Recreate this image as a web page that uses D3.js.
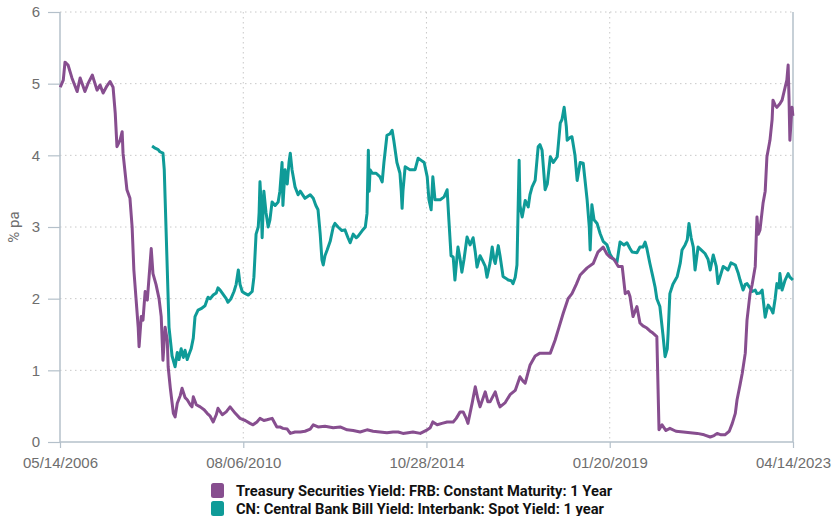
<!DOCTYPE html>
<html>
<head>
<meta charset="utf-8">
<script src="https://cdn.jsdelivr.net/npm/d3@7"></script>
<style>
  body { margin: 0; background: #fff; }
  svg { display: block; font-family: Roboto, "Noto Sans", sans-serif; }
</style>
</head>
<body>
<svg id="chart" width="832" height="516"></svg>
<script>
// time is kept as decimal years
var usYears = [2006.37,2006.44,2006.48,2006.55,2006.64,2006.76,2006.83,2006.94,2007.01,2007.11,2007.22,2007.29,2007.36,2007.45,2007.52,2007.59,2007.64,2007.68,2007.75,2007.80,2007.82,2007.91,2007.98,2008.03,2008.07,2008.12,2008.17,2008.19,2008.24,2008.28,2008.33,2008.38,2008.42,2008.47,2008.51,2008.58,2008.65,2008.70,2008.74,2008.79,2008.84,2008.86,2008.91,2008.98,2009.02,2009.07,2009.14,2009.18,2009.25,2009.30,2009.37,2009.41,2009.44,2009.51,2009.60,2009.69,2009.76,2009.83,2009.90,2009.97,2010.01,2010.11,2010.20,2010.29,2010.41,2010.52,2010.64,2010.75,2010.82,2010.91,2010.98,2011.07,2011.14,2011.26,2011.37,2011.44,2011.51,2011.61,2011.68,2011.79,2011.91,2012.02,2012.14,2012.21,2012.32,2012.48,2012.67,2012.83,2012.99,2013.13,2013.29,2013.45,2013.59,2013.75,2013.91,2014.05,2014.17,2014.28,2014.40,2014.51,2014.68,2014.84,2014.91,2014.97,2015.07,2015.18,2015.30,2015.44,2015.51,2015.60,2015.67,2015.74,2015.78,2015.88,2015.95,2016.01,2016.06,2016.18,2016.24,2016.29,2016.41,2016.48,2016.52,2016.64,2016.75,2016.87,2016.98,2017.05,2017.10,2017.21,2017.33,2017.44,2017.56,2017.68,2017.79,2017.88,2017.98,2018.09,2018.18,2018.28,2018.37,2018.53,2018.67,2018.78,2018.90,2018.99,2019.06,2019.15,2019.25,2019.34,2019.41,2019.48,2019.52,2019.59,2019.68,2019.75,2019.82,2019.91,2019.98,2020.05,2020.14,2020.19,2020.26,2020.35,2020.44,2020.58,2020.75,2020.91,2021.07,2021.23,2021.37,2021.46,2021.53,2021.62,2021.71,2021.81,2021.88,2021.95,2021.99,2022.06,2022.11,2022.18,2022.22,2022.29,2022.34,2022.41,2022.45,2022.48,2022.52,2022.59,2022.64,2022.68,2022.75,2022.80,2022.82,2022.87,2022.91,2022.98,2023.03,2023.10,2023.14,2023.17,2023.19,2023.21,2023.24,2023.26,2023.28];
var usYield = [4.95,5.05,5.30,5.26,5.08,4.89,5.08,4.89,5.00,5.12,4.91,4.98,4.87,4.97,5.03,4.95,4.59,4.12,4.21,4.33,4.03,3.52,3.40,3.00,2.40,2.00,1.60,1.33,1.75,1.70,2.10,1.98,2.30,2.70,2.35,2.20,2.00,1.75,1.14,1.60,1.42,1.05,0.75,0.40,0.35,0.54,0.65,0.75,0.62,0.59,0.52,0.49,0.63,0.52,0.49,0.45,0.40,0.36,0.28,0.38,0.47,0.38,0.42,0.49,0.40,0.33,0.30,0.26,0.24,0.28,0.33,0.30,0.31,0.33,0.21,0.21,0.19,0.18,0.12,0.14,0.14,0.15,0.18,0.24,0.21,0.22,0.20,0.21,0.17,0.16,0.14,0.17,0.15,0.14,0.13,0.14,0.14,0.12,0.13,0.14,0.12,0.17,0.20,0.28,0.24,0.26,0.28,0.28,0.33,0.42,0.42,0.33,0.26,0.55,0.77,0.60,0.49,0.70,0.56,0.56,0.70,0.55,0.49,0.55,0.66,0.72,0.91,0.85,0.82,1.07,1.20,1.24,1.24,1.24,1.42,1.60,1.80,2.00,2.07,2.20,2.33,2.43,2.49,2.65,2.72,2.62,2.58,2.55,2.45,2.45,2.07,2.10,2.03,1.75,1.89,1.66,1.62,1.59,1.55,1.52,1.47,0.17,0.24,0.16,0.19,0.15,0.14,0.13,0.12,0.10,0.07,0.09,0.12,0.10,0.10,0.15,0.26,0.40,0.59,0.80,0.96,1.24,1.70,2.07,2.20,2.45,3.14,2.90,2.96,3.33,3.50,3.98,4.21,4.50,4.77,4.70,4.67,4.72,4.77,4.95,5.05,5.26,4.80,4.21,4.50,4.67,4.55];

var cnYears = [2008.49,2008.56,2008.63,2008.67,2008.74,2008.77,2008.79,2008.84,2008.88,2008.95,2009.02,2009.07,2009.11,2009.16,2009.21,2009.25,2009.30,2009.34,2009.39,2009.44,2009.48,2009.55,2009.62,2009.71,2009.78,2009.83,2009.90,2009.97,2010.01,2010.06,2010.13,2010.20,2010.24,2010.31,2010.38,2010.43,2010.48,2010.52,2010.57,2010.61,2010.71,2010.80,2010.84,2010.89,2010.94,2010.96,2010.98,2011.01,2011.03,2011.07,2011.12,2011.17,2011.21,2011.26,2011.33,2011.40,2011.44,2011.49,2011.51,2011.56,2011.61,2011.65,2011.68,2011.72,2011.79,2011.86,2011.91,2012.02,2012.14,2012.21,2012.27,2012.32,2012.37,2012.41,2012.44,2012.48,2012.53,2012.60,2012.67,2012.71,2012.78,2012.87,2012.94,2013.01,2013.06,2013.13,2013.20,2013.24,2013.34,2013.41,2013.45,2013.48,2013.50,2013.52,2013.57,2013.66,2013.75,2013.80,2013.84,2013.91,2013.98,2014.03,2014.07,2014.14,2014.21,2014.24,2014.26,2014.28,2014.33,2014.44,2014.56,2014.63,2014.70,2014.77,2014.84,2014.88,2014.93,2014.97,2015.02,2015.14,2015.23,2015.30,2015.34,2015.39,2015.44,2015.48,2015.53,2015.55,2015.60,2015.64,2015.69,2015.76,2015.83,2015.90,2015.95,2015.99,2016.06,2016.11,2016.18,2016.22,2016.29,2016.34,2016.38,2016.41,2016.48,2016.52,2016.59,2016.64,2016.71,2016.78,2016.82,2016.87,2016.91,2016.96,2016.98,2017.03,2017.10,2017.17,2017.21,2017.26,2017.33,2017.40,2017.44,2017.49,2017.56,2017.61,2017.68,2017.75,2017.84,2017.91,2017.95,2018.00,2018.05,2018.07,2018.14,2018.18,2018.25,2018.30,2018.37,2018.44,2018.53,2018.58,2018.60,2018.64,2018.69,2018.76,2018.83,2018.90,2018.99,2019.06,2019.11,2019.22,2019.29,2019.38,2019.45,2019.52,2019.57,2019.68,2019.75,2019.82,2019.87,2019.91,2019.98,2020.05,2020.10,2020.14,2020.21,2020.28,2020.33,2020.38,2020.40,2020.44,2020.51,2020.61,2020.68,2020.72,2020.79,2020.84,2020.88,2020.93,2020.98,2021.02,2021.09,2021.16,2021.25,2021.32,2021.37,2021.44,2021.51,2021.55,2021.62,2021.67,2021.74,2021.78,2021.85,2021.95,2022.02,2022.06,2022.13,2022.18,2022.22,2022.29,2022.34,2022.41,2022.45,2022.52,2022.57,2022.64,2022.68,2022.71,2022.78,2022.82,2022.87,2022.91,2022.96,2022.98,2023.03,2023.10,2023.17,2023.21,2023.28];
var cnYield = [4.13,4.10,4.08,4.05,4.03,3.80,3.40,2.40,1.60,1.20,1.05,1.25,1.15,1.30,1.18,1.28,1.15,1.22,1.30,1.45,1.75,1.84,1.86,1.90,2.02,2.00,2.05,2.08,2.15,2.12,2.06,2.00,1.95,2.00,2.10,2.20,2.40,2.20,2.10,2.08,2.05,2.10,2.30,2.90,3.00,3.20,3.63,3.30,2.85,3.50,3.20,3.00,3.10,3.35,3.30,3.35,3.50,3.90,3.30,3.80,3.60,3.90,4.03,3.80,3.56,3.45,3.50,3.40,3.45,3.40,3.30,3.24,2.90,2.54,2.47,2.60,2.68,2.80,3.00,3.05,3.00,2.95,2.96,2.85,2.78,2.90,2.85,2.87,2.95,3.00,3.19,4.07,3.50,3.80,3.75,3.75,3.70,3.63,3.90,4.28,4.30,4.35,4.20,3.90,3.75,3.50,3.26,3.50,3.84,3.80,3.80,3.96,3.93,3.90,3.70,3.38,3.24,3.70,3.38,3.38,3.42,3.52,3.10,2.60,2.58,2.26,2.60,2.72,2.55,2.37,2.55,2.86,2.75,2.85,2.65,2.44,2.60,2.54,2.45,2.30,2.50,2.72,2.55,2.49,2.74,2.60,2.31,2.29,2.26,2.25,2.21,2.30,2.47,3.93,3.30,3.14,3.37,3.28,3.45,3.56,3.65,4.12,4.15,4.07,3.52,3.60,3.98,3.90,3.98,4.45,4.50,4.67,4.40,4.21,4.25,4.26,4.00,3.65,3.90,3.89,3.38,3.00,2.68,3.31,3.10,3.05,2.91,2.80,2.75,2.62,2.57,2.51,2.79,2.75,2.78,2.70,2.65,2.64,2.72,2.72,2.79,2.70,2.49,2.30,2.16,2.00,1.89,1.50,1.19,1.30,1.52,2.07,2.20,2.31,2.50,2.68,2.75,2.82,3.05,2.85,2.72,2.40,2.72,2.68,2.63,2.55,2.40,2.61,2.45,2.21,2.35,2.45,2.42,2.40,2.50,2.47,2.35,2.26,2.12,2.20,2.21,2.15,2.10,2.12,2.07,2.08,2.12,1.74,1.85,1.91,1.85,1.80,2.00,2.21,2.15,2.35,2.12,2.26,2.35,2.30,2.26];

var xTickDates = ["05/14/2006","08/06/2010","10/28/2014","01/20/2019","04/14/2023"];
var yTicks = [0, 1, 2, 3, 4, 5, 6];
var seriesNames = ["Treasury Securities Yield: FRB: Constant Maturity: 1 Year",
                   "CN: Central Bank Bill Yield: Interbank: Spot Yield: 1 year"];
var seriesColors = ["#874e8f", "#0f9b98"];

var parseDate = d3.timeParse("%m/%d/%Y");
var formatDate = d3.timeFormat("%m/%d/%Y");

function fromDecimal(d){
  var y = Math.floor(d);
  var start = new Date(y, 0, 1), end = new Date(y + 1, 0, 1);
  return new Date(+start + (d - y) * (end - start));
}

var plotLeft = 60, plotRight = 793, plotTop = 12, plotBottom = 442;
var svg = d3.select("#chart");

var tickDates = xTickDates.map(parseDate);
var xScale = d3.scaleTime().domain([tickDates[0], tickDates[tickDates.length - 1]]).range([plotLeft, plotRight]);
var yScale = d3.scaleLinear().domain([0, 6]).range([plotBottom, plotTop]);

// GRID
svg.append("g").selectAll("line").data(yTicks.slice(1)).enter().append("line")
  .attr("x1", plotLeft).attr("x2", plotRight)
  .attr("y1", function(d){ return yScale(d); }).attr("y2", function(d){ return yScale(d); })
  .attr("stroke", "#c8c8c8").attr("stroke-width", 1).attr("stroke-dasharray", "1.5,3.5");
svg.append("g").selectAll("line").data(tickDates.slice(1, -1)).enter().append("line")
  .attr("x1", function(d){ return xScale(d); }).attr("x2", function(d){ return xScale(d); })
  .attr("y1", plotTop).attr("y2", plotBottom)
  .attr("stroke", "#c8c8c8").attr("stroke-width", 1).attr("stroke-dasharray", "1.5,3.5");

// AXES
var axisColor = "#b4c0ca";
var yAxis = svg.append("g").attr("transform", "translate(" + plotLeft + ",0)")
  .call(d3.axisLeft(yScale).tickValues(yTicks).tickSize(12).tickPadding(8).tickFormat(d3.format("d")));
var xAxis = svg.append("g").attr("transform", "translate(0," + plotBottom + ")")
  .call(d3.axisBottom(xScale).tickValues(tickDates).tickSize(6).tickPadding(9).tickFormat(formatDate));
[yAxis, xAxis].forEach(function(ax){
  ax.select(".domain").attr("stroke", axisColor).attr("stroke-width", 1.5);
  ax.selectAll(".tick line").attr("stroke", axisColor).attr("stroke-width", 1.2);
  ax.selectAll(".tick text").attr("fill", "#6e6e6e").style("font-size", "15px");
});
yAxis.select(".domain").attr("d", "M0," + plotTop + "V" + plotBottom);
xAxis.select(".domain").attr("d", "M" + plotLeft + ",0H" + plotRight);
svg.append("line").attr("x1", plotRight).attr("x2", plotRight).attr("y1", plotTop).attr("y2", plotBottom)
  .attr("stroke", axisColor).attr("stroke-width", 1.5);

svg.append("text").attr("transform", "translate(19," + ((plotTop + plotBottom) / 2) + ") rotate(-90)")
  .attr("text-anchor", "middle").attr("fill", "#6e6e6e").style("font-size", "15px").text("% pa");

// LINES
var line = d3.line()
  .x(function(d){ return xScale(d.date); })
  .y(function(d){ return yScale(d.value); });

var series = [
  usYears.map(function(t, i){ return {date: fromDecimal(t), value: usYield[i]}; }),
  cnYears.map(function(t, i){ return {date: fromDecimal(t), value: cnYield[i]}; })
];
[1, 0].forEach(function(i){
  svg.append("path").datum(series[i])
    .attr("fill", "none").attr("stroke", seriesColors[i])
    .attr("stroke-width", 3).attr("stroke-linejoin", "round")
    .attr("d", line);
});

// LEGEND
var legend = svg.append("g").attr("transform", "translate(211,483)");
var rows = legend.selectAll("g").data(seriesNames).enter().append("g")
  .attr("transform", function(d, i){ return "translate(0," + (i * 18) + ")"; });
rows.append("rect").attr("width", 13).attr("height", 15).attr("rx", 2.5)
  .attr("fill", function(d, i){ return seriesColors[i]; });
rows.append("text").attr("x", 25).attr("y", 12.5)
  .attr("fill", "#111").style("font-size", "14.7px").style("font-weight", "bold")
  .text(function(d){ return d; });
</script>
</body>
</html>
